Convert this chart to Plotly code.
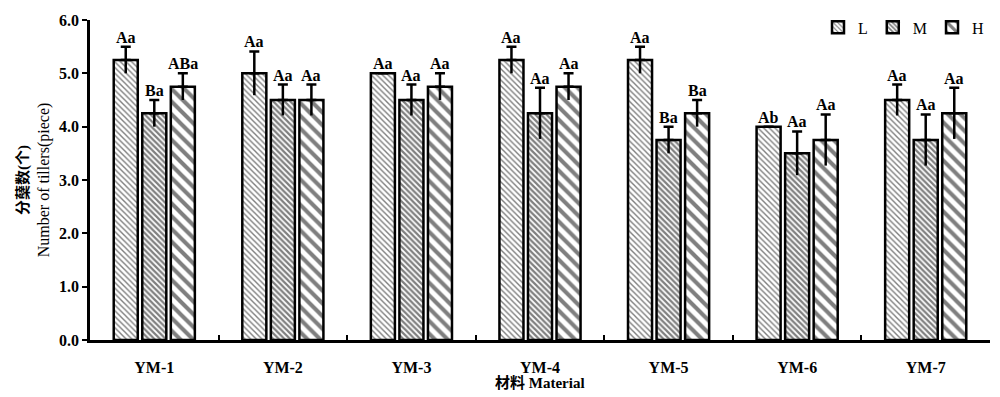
import plotly.graph_objects as go

categories = ["YM-1", "YM-2", "YM-3", "YM-4", "YM-5", "YM-6", "YM-7"]
series_names = ["L", "M", "H"]
L_vals = [5.25, 5.0, 5.0, 5.25, 5.25, 4.0, 4.5]
M_vals = [4.25, 4.5, 4.5, 4.25, 3.75, 3.5, 3.75]
H_vals = [4.75, 4.5, 4.75, 4.75, 4.25, 3.75, 4.25]
L_err = [0.25, 0.41, 0.0, 0.25, 0.25, 0.0, 0.29]
M_err = [0.25, 0.29, 0.29, 0.48, 0.25, 0.41, 0.48]
H_err = [0.25, 0.29, 0.25, 0.25, 0.25, 0.48, 0.48]
L_sig = ["Aa", "Aa", "Aa", "Aa", "Aa", "Ab", "Aa"]
M_sig = ["Ba", "Aa", "Aa", "Aa", "Ba", "Aa", "Aa"]
H_sig = ["ABa", "Aa", "Aa", "Aa", "Ba", "Aa", "Aa"]
y_ticks = [0, 1, 2, 3, 4, 5, 6]

values = [L_vals, M_vals, H_vals]
errors = [L_err, M_err, H_err]
sigs = [L_sig, M_sig, H_sig]
patterns = [
    dict(shape="\\", size=4, solidity=0.35, fgcolor="black", bgcolor="white"),
    dict(shape="\\", size=4, solidity=0.55, fgcolor="black", bgcolor="white"),
    dict(shape="\\", size=9, solidity=0.45, fgcolor="black", bgcolor="white"),
]

FONT = "Liberation Serif"
CJK = "Liberation Serif, Noto Sans CJK SC"
bw = 0.187
step = 0.222
centers = [-step, 0.0, step]

fig = go.Figure()
for k in range(3):
    fig.add_trace(go.Bar(
        name=series_names[k], x=categories, y=values[k],
        width=bw, offset=centers[k] - bw / 2,
        marker=dict(color="white", pattern=patterns[k],
                    line=dict(color="black", width=2.5)),
        error_y=dict(type="data", array=errors[k], arrayminus=[0] * 7,
                     symmetric=False, color="black", thickness=2.5, width=5),
    ))
# lower halves of error bars (no cap)
for k in range(3):
    fig.add_trace(go.Bar(
        x=categories, y=values[k], width=bw, offset=centers[k] - bw / 2,
        marker=dict(color="rgba(0,0,0,0)", line=dict(width=0)),
        showlegend=False, hoverinfo="skip",
        error_y=dict(type="data", array=[0] * 7, arrayminus=errors[k],
                     symmetric=False, color="black", thickness=2.5, width=0),
    ))

annotations = []
for k in range(3):
    for i in range(len(categories)):
        annotations.append(dict(
            x=i + centers[k], y=values[k][i] + errors[k][i], xref="x", yref="y",
            text=sigs[k][i], showarrow=False, yanchor="bottom", yshift=-1,
            font=dict(family=FONT, size=16, color="black", weight="bold"),
        ))
annotations.append(dict(
    x=0.5, y=-0.134, xref="paper", yref="paper", text="<b>材料 Material</b>",
    showarrow=False, yanchor="middle",
    font=dict(family=CJK, size=15, color="black"),
))

fig.update_layout(
    barmode="overlay",
    width=1000, height=397,
    margin=dict(l=90, r=10, t=14, b=57),
    paper_bgcolor="white", plot_bgcolor="white",
    showlegend=True,
    legend=dict(orientation="h", x=1.0, xanchor="right", y=1.03, yanchor="top",
                font=dict(family=FONT, size=16, color="black"),
                itemwidth=30, bgcolor="rgba(0,0,0,0)"),
    annotations=annotations,
    font=dict(family=FONT, color="black"),
)
fig.update_xaxes(
    type="category", tickson="boundaries", ticks="inside", ticklen=5,
    tickwidth=1.5, tickcolor="black",
    showline=True, linecolor="black", linewidth=2.5,
    tickfont=dict(family=FONT, size=16, color="black", weight="bold"),
    range=[-0.5, 6.5], showgrid=False, ticklabelstandoff=11,
)
fig.update_yaxes(
    range=[0, 6], tickvals=y_ticks, ticktext=[f"{v:.1f}" for v in y_ticks],
    ticks="outside", ticklen=5, tickwidth=1.5, tickcolor="black",
    showline=True, linecolor="black", linewidth=2.5, showgrid=False,
    zeroline=False,
    tickfont=dict(family=FONT, size=16, color="black", weight="bold"),
    title=dict(text="<span style='font-size:15px'><b>分蘖数(个)</b></span><br>Number of tillers(piece)",
               font=dict(family=CJK, size=16, color="black"),
               standoff=6),
)
fig.write_html("out.html", post_script="document.body.style.margin='0';",
               config={"displayModeBar": False})
